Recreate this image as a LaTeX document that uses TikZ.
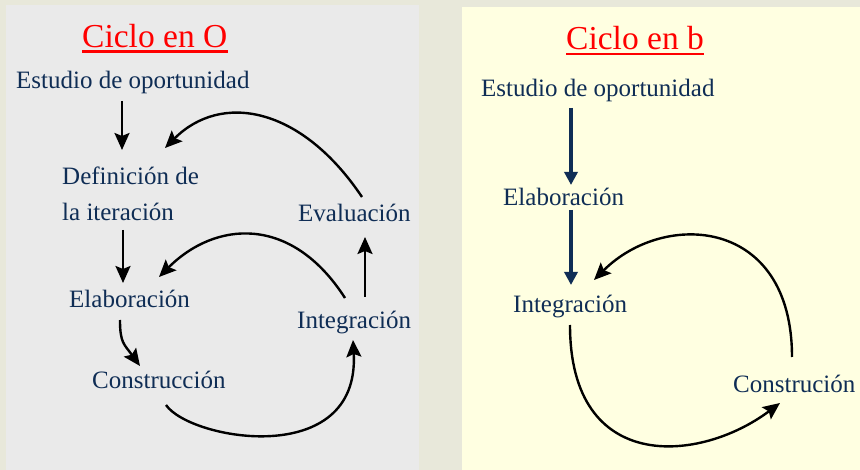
\documentclass[tikz,border=0pt]{standalone}
\usepackage{fontspec}
\setmainfont{Liberation Serif}
\usetikzlibrary{arrows.meta,calc}
\definecolor{navy}{RGB}{15,45,85}
\definecolor{bgtex}{RGB}{232,232,218}
\definecolor{panelgray}{RGB}{234,234,234}
\definecolor{panelyellow}{RGB}{255,255,225}
\begin{document}
\begin{tikzpicture}[x=1pt,y=-1pt,
  lbl/.style={anchor=base west,inner sep=0pt,text=navy,align=left,font=\fontsize{25}{36}\selectfont},
  ttl/.style={anchor=base west,inner sep=0pt,text=red,font=\fontsize{33.5}{40}\selectfont},
  uline/.style={red,line width=2.3pt},
  arr/.style={line width=2.4pt,-{Stealth[length=17pt,width=15pt,inset=3pt]}},
  bigarr/.style={navy,line width=4pt,-{Triangle[length=13pt,width=13pt]}}]
\useasboundingbox (0,0) rectangle (860,470);
\fill[bgtex] (0,0) rectangle (860,470);
\fill[panelgray] (6,5) rectangle (419,470);
\fill[panelyellow] (462,7) rectangle (860,470);

% ---- left panel ----
\node[ttl] (tO) at (82,48) {Ciclo en O};
\draw[uline] ($(tO.base west)+(0,3.5)$) -- ($(tO.base east)+(0,3.5)$);
\node[lbl] (est) at (16,89) {Estudio de oportunidad};
\node[lbl] (def) at (62,221) {Definición de\\la iteración};
\node[lbl] (elab) at (69,308) {Elaboración};
\node[lbl] (cons) at (92,389) {Construcción};
\node[lbl] (integ) at (297,329) {Integración};
\node[lbl] (eval) at (298,222) {Evaluación};

\draw[arr] ($(est.base west)+(106,12)$) -- ($(def.base west)+(60,-71)$);
\draw[arr] ($(def.base west)+(61,9)$) -- ($(elab.base west)+(54,-25)$);
\draw[arr] ($(elab.base west)+(51,12)$) .. controls ($(elab.base west)+(51,35)$) and ($(cons.base west)+(32,-45)$) .. ($(cons.base west)+(48,-23)$);
\draw[arr] ($(cons.base west)+(74,16)$) .. controls ($(cons.base west)+(98,51)$) and ($(integ.base west)+(63,141)$) .. ($(integ.base west)+(56,11)$);
\draw[arr] ($(integ.base west)+(68,-32)$) -- ($(eval.base west)+(67,15)$);
\draw[arr] ($(integ.base west)+(48,-31)$) .. controls ($(integ.base west)+(-6,-115)$) and ($(elab.base west)+(146,-87)$) .. ($(elab.base west)+(90,-31)$);
\draw[arr] ($(eval.base west)+(64,-25)$) .. controls ($(eval.base west)+(3,-116)$) and ($(def.base west)+(159,-129)$) .. ($(def.base west)+(103,-73)$);

% ---- right panel ----
\node[ttl] (tb) at (566,50) {Ciclo en b};
\draw[uline] ($(tb.base west)+(0,4)$) -- ($(tb.base east)+(0,4)$);
\node[lbl] (est2) at (481,97) {Estudio de oportunidad};
\node[lbl] (elab2) at (503,206) {Elaboración};
\node[lbl] (integ2) at (513,313) {Integración};
\node[lbl] (cons2) at (733,393) {Construción};

\draw[bigarr] ($(est2.base west)+(90,11)$) -- ($(elab2.base west)+(68,-21)$);
\draw[bigarr] ($(elab2.base west)+(68,4)$) -- ($(integ2.base west)+(58,-28)$);
\draw[arr] ($(integ2.base west)+(57,12)$) .. controls ($(integ2.base west)+(57,162)$) and ($(cons2.base west)+(-33,70)$) .. ($(cons2.base west)+(47,10)$);
\draw[arr] ($(cons2.base west)+(59,-36)$) .. controls ($(cons2.base west)+(59,-176)$) and ($(integ2.base west)+(151,-103)$) .. ($(integ2.base west)+(81,-33)$);
\end{tikzpicture}
\end{document}
